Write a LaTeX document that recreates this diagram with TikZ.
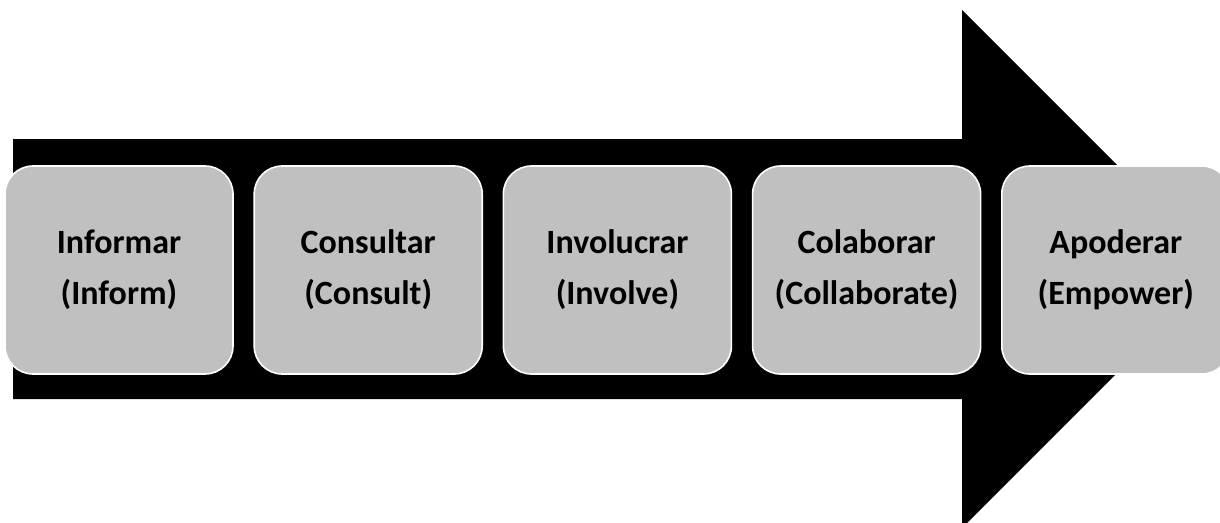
\documentclass[tikz,border=0pt]{standalone}
\usepackage{fontspec}
\setmainfont{Carlito}

\definecolor{stagegray}{RGB}{192,192,192}

\begin{document}
\begin{tikzpicture}[x=1pt, y=-1pt,
		stage/.style={draw=white, line width=1.6pt, fill=stagegray, rounded corners=28pt,
			minimum width=228pt, minimum height=208pt, align=center,
			font=\bfseries\fontsize{34}{51}\selectfont}]
		\useasboundingbox (0,0) rectangle (1220,522);
		% big arrow behind the stages
		\fill[black] (13,139) -- (962,139) -- (962,10) -- (1221,269) -- (962,528) -- (962,399) -- (13,399) -- cycle;
		\foreach \i/\es/\en in {1/Informar/Inform, 2/Consultar/Consult, 3/Involucrar/Involve, 4/Colaborar/Collaborate, 5/Apoderar/Empower} {
			\node[stage] (stage\i) at ({119+249.2*(\i-1)},270) {\es\\(\en)};
		}
	\end{tikzpicture}
\end{document}
